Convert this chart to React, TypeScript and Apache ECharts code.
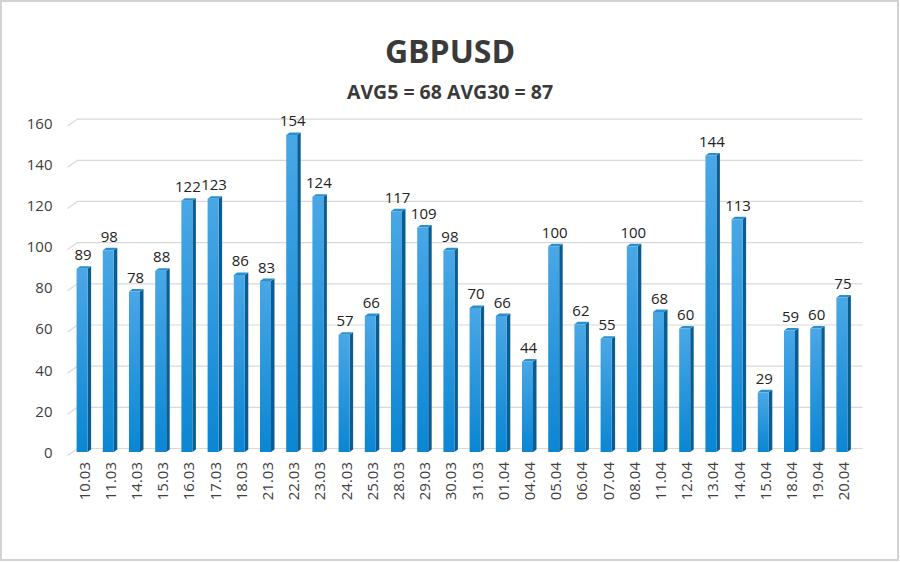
import React, { useEffect, useRef } from "react";
import * as echarts from "echarts";

const categories = [
  "10.03", "11.03", "14.03", "15.03", "16.03", "17.03", "18.03", "21.03", "22.03", "23.03",
  "24.03", "25.03", "28.03", "29.03", "30.03", "31.03", "01.04", "04.04", "05.04", "06.04",
  "07.04", "08.04", "11.04", "12.04", "13.04", "14.04", "15.04", "18.04", "19.04", "20.04",
];
const values = [
  89, 98, 78, 88, 122, 123, 86, 83, 154, 124,
  57, 66, 117, 109, 98, 70, 66, 44, 100, 62,
  55, 100, 68, 60, 144, 113, 29, 59, 60, 75,
];
const yTicks = [0, 20, 40, 60, 80, 100, 120, 140, 160];
const titleText = "GBPUSD";
const subtitleText = "AVG5 = 68 AVG30 = 87";

const FONT = "'Open Sans', 'Noto Sans', sans-serif";

export default function App() {
  const ref = useRef<HTMLDivElement>(null);
  useEffect(() => {
    if (!ref.current) return;
    const chart = echarts.init(ref.current, undefined, { renderer: "svg" });
    const frontGrad = new echarts.graphic.LinearGradient(0, 0, 0, 1, [
      { offset: 0, color: "#4aa7e6" },
      { offset: 1, color: "#0a86d3" },
    ]);
    const option: any = {
      animation: false,
      backgroundColor: "#ffffff",
      title: [
        {
          text: titleText,
          left: "center",
          top: 29,
          textStyle: { fontFamily: FONT, fontSize: 32, fontWeight: "bold", color: "#3a3a3a" },
        },
        {
          text: subtitleText,
          left: "center",
          top: 76,
          textStyle: { fontFamily: FONT, fontSize: 19.5, fontWeight: "bold", color: "#3a3a3a" },
        },
      ],
      graphic: [
        {
          type: "rect",
          shape: { x: 1, y: 1, width: 897, height: 559 },
          style: { fill: "none", stroke: "#d2d2d2", lineWidth: 2 },
          silent: true,
        },
      ],
      grid: { left: 70.5, right: 43.5, top: 122.6, bottom: 110, containLabel: false },
      xAxis: {
        type: "category",
        data: categories,
        axisLine: { show: false },
        axisTick: { show: false },
        axisLabel: {
          rotate: 90,
          interval: 0,
          margin: 10,
          fontFamily: FONT,
          fontSize: 15,
          color: "#404040",
        },
      },
      yAxis: {
        type: "value",
        min: 0,
        max: 160,
        interval: 20,
        axisLine: { show: false },
        axisTick: { show: false },
        splitLine: { show: false },
        axisLabel: {
          margin: 18,
          fontFamily: FONT,
          fontSize: 15,
          color: "#404040",
          padding: [9, 0, 0, 0],
        },
      },
      series: [
        {
          type: "custom",
          silent: true,
          z: 1,
          data: yTicks.map((v) => [0, v]),
          renderItem: (params: any, api: any) => {
            const cs = params.coordSys;
            const y = api.coord([0, api.value(1)])[1];
            const x0 = cs.x - 3;
            const xEnd = cs.x + cs.width + 6;
            return {
              type: "polyline",
              shape: {
                points: [
                  [x0, y + 3.5],
                  [x0 + 10, y - 3.5],
                  [xEnd, y - 3.5],
                ],
              },
              style: { fill: "none", stroke: "#d9d9d9", lineWidth: 1.2 },
            };
          },
        },
        {
          type: "custom",
          z: 2,
          data: values.map((v, i) => [i, v]),
          renderItem: (params: any, api: any) => {
            const i = api.value(0);
            const v = api.value(1);
            const top = api.coord([i, v]);
            const base = api.coord([i, 0]);
            const cx = top[0] - 1.5;
            const w = 11;
            const d = 3.5;
            const dy = 2.5;
            const l = cx - w / 2;
            const r = cx + w / 2;
            const yt = top[1];
            const yb = base[1];
            return {
              type: "group",
              children: [
                {
                  type: "polygon",
                  shape: {
                    points: [
                      [r, yt],
                      [r + d, yt - dy],
                      [r + d, yb - dy],
                      [r, yb],
                    ],
                  },
                  style: { fill: "#0a5d93" },
                },
                {
                  type: "polygon",
                  shape: {
                    points: [
                      [l, yt],
                      [l + d, yt - dy],
                      [r + d, yt - dy],
                      [r, yt],
                    ],
                  },
                  style: { fill: "#2a8fcf" },
                },
                {
                  type: "rect",
                  shape: { x: l, y: yt, width: w, height: yb - yt },
                  style: { fill: frontGrad },
                },
                {
                  type: "text",
                  style: {
                    text: String(v),
                    x: cx + 1,
                    y: yt - 7,
                    align: "center",
                    verticalAlign: "bottom",
                    fontFamily: FONT,
                    fontSize: 15,
                    fill: "#222222",
                  },
                },
              ],
            };
          },
        },
      ],
    };
    chart.setOption(option);
    return () => chart.dispose();
  }, []);
  return (
    <div
      ref={ref}
      style={{ position: "absolute", left: 0, top: 0, width: 900, height: 562 }}
    />
  );
}
